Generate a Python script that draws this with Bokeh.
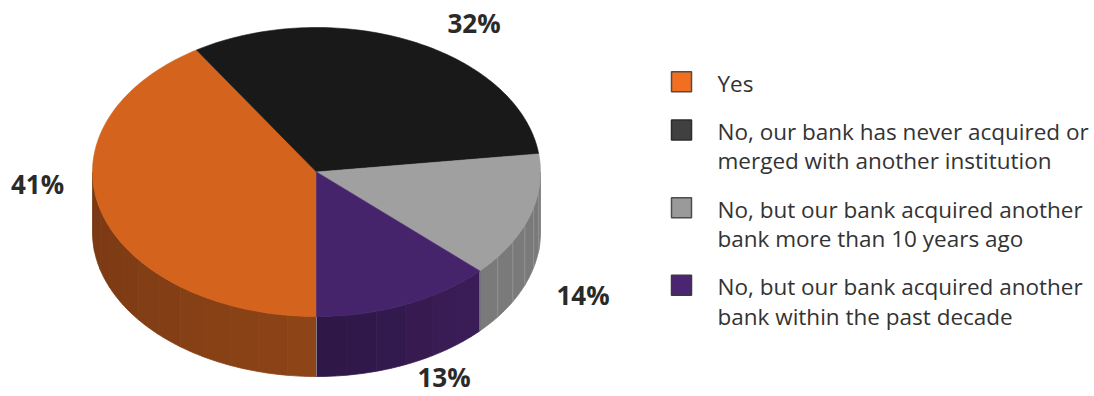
import numpy as np
from bokeh.plotting import figure
from bokeh.models import Range1d
from bokeh.embed import file_html
from bokeh.resources import INLINE
from bokeh.core.properties import value

# ---------------- data ----------------
categories = [
    "Yes",
    "No, our bank has never acquired or\nmerged with another institution",
    "No, but our bank acquired another\nbank more than 10 years ago",
    "No, but our bank acquired another\nbank within the past decade",
]
shares = [41, 32, 14, 13]
pct_labels = ["41%", "32%", "14%", "13%"]

# ---------------- styles ----------------
top_colors = ["#D4631E", "#191919", "#A0A0A0", "#46246B"]
side_dark = ["#783813", "#101010", "#7A7A7A", "#2E1747"]
side_light = ["#8E4416", "#161616", "#7A7A7A", "#3B1D57"]
strip_edge = [None, None, "#999999", None]
legend_fill = ["#F26F21", "#404040", "#9A9A9A", "#4B2472"]
legend_line = ["#4D4D4D", "#2B2B2B", "#4D4D4D", "#3A3A3A"]

# layout (picture pixel coordinates)
W, H = 1094, 396
CX, CY = 316.0, 171.5
RX, RY = 224.0, 144.5
DEPTH = 60.0
START = 270.0  # degrees, slices run clockwise
label_pos = [(37, 194), (473.5, 33), (582.5, 305), (443.5, 387)]
LBL_FS, LEG_FS = 26.0, 22.5
BASE_FIX = 0.41  # baseline correction (em) for text rendering
LEG_SQ_X, LEG_TX = 681, 717
LEG_Y0, LINE_H, GAP = 92, 29.3, 19

p = figure(width=W, height=H, x_range=Range1d(0, W), y_range=Range1d(H, 0),
           output_backend="svg", toolbar_location=None, min_border=0,
           x_axis_location=None, y_axis_location=None)
p.grid.visible = False
p.outline_line_color = None
p.background_fill_color = "white"
p.border_fill_color = "white"


def ell(tdeg, dy=0.0):
    t = np.radians(tdeg)
    return CX + RX * np.cos(t), CY - RY * np.sin(t) + dy


def hexmix(c1, c2, f):
    a = [int(c1[i:i + 2], 16) for i in (1, 3, 5)]
    b = [int(c2[i:i + 2], 16) for i in (1, 3, 5)]
    m = [round(a[k] + (b[k] - a[k]) * f) for k in range(3)]
    return "#%02x%02x%02x" % tuple(m)


# slice angles
bounds = []
a0 = START
for s in shares:
    a1 = a0 - s / sum(shares) * 360.0
    bounds.append((a0, a1))
    a0 = a1

# side faces (front half only: 180..360 deg)
sx, sy, sc = [], [], []
edge_x, edge_y, edge_c = [], [], []
for i, (hi, lo) in enumerate(bounds):
    for k in (-1, 0, 1):
        s = max(lo + 360 * k, 180.0)
        e = min(hi + 360 * k, 360.0)
        if e <= s:
            continue
        n = int(np.ceil((e - s) / 8.0))
        edges = np.linspace(s, e, n + 1)
        for j in range(n):
            ta = np.linspace(edges[j], edges[j + 1], 8)
            xt, yt = ell(ta)
            xb, yb = ell(ta[::-1], DEPTH)
            sx.append(list(xt) + list(xb))
            sy.append(list(yt) + list(yb))
            sc.append(hexmix(side_dark[i], side_light[i], (j + 0.5) / n))
        if strip_edge[i]:
            for t in edges[1:-1]:
                x0, y0 = ell(t)
                edge_x.append([x0, x0])
                edge_y.append([y0, y0 + DEPTH])
                edge_c.append(strip_edge[i])

p.patches(sx, sy, fill_color=sc, line_color=sc, line_width=0.8)
if edge_x:
    p.multi_line(edge_x, edge_y, line_color=edge_c, line_width=1, line_alpha=0.8)

# light lines at slice borders on the side
bx, by = [], []
for hi, lo in bounds:
    t = hi % 360
    if 180 < t < 360:
        x0, y0 = ell(t)
        bx.append([x0, x0])
        by.append([y0, y0 + DEPTH])
p.multi_line(bx, by, line_color="#B0B0B0", line_width=0.8, line_alpha=0.8)

# top faces
tx, ty = [], []
for hi, lo in bounds:
    ts = np.linspace(hi, lo, max(int(abs(hi - lo)) + 2, 4))
    x, y = ell(ts)
    tx.append([CX] + list(x))
    ty.append([CY] + list(y))
p.patches(tx, ty, fill_color=top_colors, line_color=top_colors, line_width=0.6)

# percent labels
p.text(x=[q[0] for q in label_pos], y=[q[1] - BASE_FIX * LBL_FS for q in label_pos],
       text=pct_labels, text_font=value("Open Sans"), text_font_style="bold",
       text_font_size=f"{LBL_FS}px", text_color="#2A2A2A", text_align="center",
       text_baseline="alphabetic")

# legend
yb = LEG_Y0
lx, ly, lt, qx, qy = [], [], [], [], []
for cat in categories:
    lines = cat.split("\n")
    qx.append(LEG_SQ_X)
    qy.append(yb - 10.7)
    for m, ln in enumerate(lines):
        lx.append(LEG_TX)
        ly.append(yb + m * LINE_H - BASE_FIX * LEG_FS)
        lt.append(ln)
    yb += len(lines) * LINE_H + GAP

p.rect(x=qx, y=qy, width=20, height=20, width_units="screen", height_units="screen",
       fill_color=legend_fill, line_color=legend_line, line_width=1.5)
p.text(x=lx, y=ly, text=lt, text_font=value("Open Sans"), text_font_size=f"{LEG_FS}px",
       text_color="#333333", text_align="left", text_baseline="alphabetic")

open("out.html", "w").write(file_html(p, INLINE))
